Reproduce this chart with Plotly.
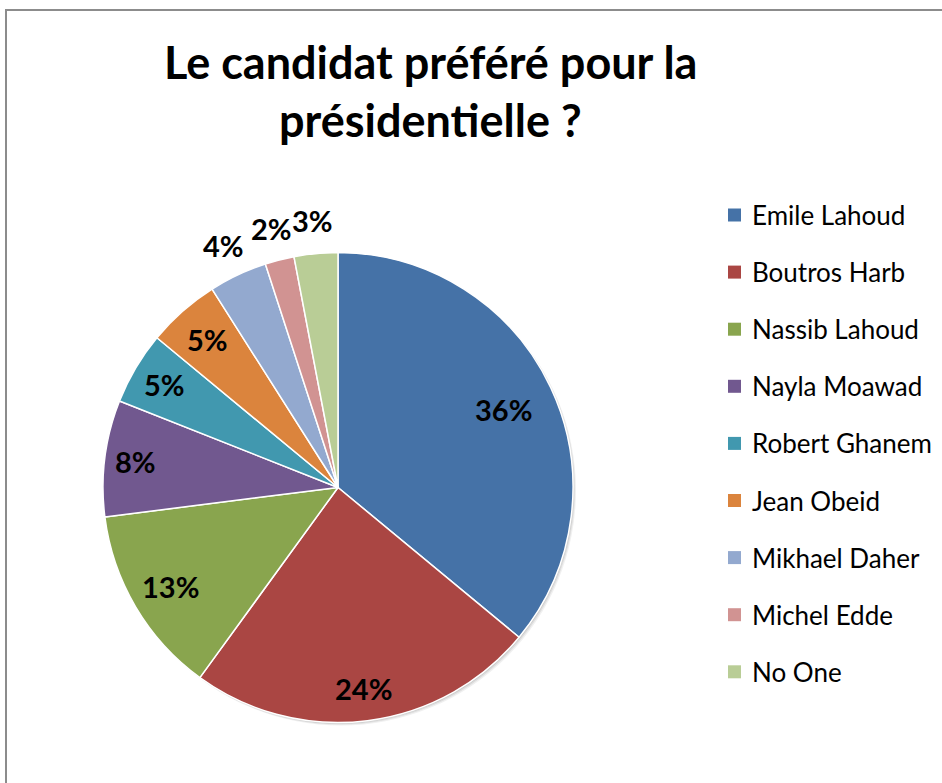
import math
import plotly.graph_objects as go

# Poll results: preferred presidential candidate
candidates = ["Emile Lahoud", "Boutros Harb", "Nassib Lahoud", "Nayla Moawad",
              "Robert Ghanem", "Jean Obeid", "Mikhael Daher", "Michel Edde", "No One"]
shares = [36, 24, 13, 8, 5, 5, 4, 2, 3]
colors = ["#4572A7", "#AA4643", "#89A54E", "#71588F", "#4198AF",
          "#DB843D", "#93A9CF", "#D19392", "#B9CD96"]

W, H = 942, 783
FONT = "Lato, 'Open Sans', sans-serif"

# Pie geometry (pixels)
cx, cy, R = 338, 487.5, 235
# radial placement of each percentage label, as a fraction of the radius
label_r = [0.78, 0.86, 0.83, 0.87, 0.86, 0.84, 1.14, 1.14, 1.14]


def px(x):
    return x / W


def py(y):
    return 1 - y / H


fig = go.Figure()
fig.add_trace(go.Pie(
    labels=candidates,
    values=shares,
    sort=False,
    direction="clockwise",
    rotation=0,
    marker=dict(colors=colors, line=dict(color="white", width=1.5)),
    textinfo="none",
    hoverinfo="label+percent",
    showlegend=False,
    domain=dict(x=[px(cx - R), px(cx + R)], y=[py(cy + R), py(cy - R)]),
))

annotations = []
shapes = []

# soft drop shadow behind the pie
for off, alpha in [(3, 0.06), (2, 0.08), (1, 0.10)]:
    shapes.append(dict(
        type="circle", xref="paper", yref="paper", layer="below",
        x0=px(cx - R + off), x1=px(cx + R + off),
        y0=py(cy + R + off), y1=py(cy - R + off),
        fillcolor=f"rgba(0,0,0,{alpha})", line=dict(width=0),
    ))

# percentage labels placed at each slice's mid-angle
total = sum(shares)
cum = 0
for v, rf in zip(shares, label_r):
    mid = (cum + v / 2) / total * 2 * math.pi
    cum += v
    x = cx + rf * R * math.sin(mid)
    y = cy - rf * R * math.cos(mid)
    annotations.append(dict(
        x=px(x), y=py(y), xref="paper", yref="paper",
        text=f"<b>{round(v / total * 100)}%</b>", showarrow=False,
        font=dict(family=FONT, size=29, color="black"),
        xanchor="center", yanchor="middle",
    ))

# legend
leg_top, leg_step = 215, 57.1
sq = 13
for i, (name, col) in enumerate(zip(candidates, colors)):
    y = leg_top + i * leg_step
    shapes.append(dict(
        type="rect", xref="paper", yref="paper",
        x0=px(728), x1=px(728 + sq), y0=py(y + sq / 2), y1=py(y - sq / 2),
        fillcolor=col, line=dict(width=0),
    ))
    annotations.append(dict(
        x=px(750), y=py(y), xref="paper", yref="paper",
        text=name, showarrow=False,
        font=dict(family=FONT, size=26, color="black"),
        xanchor="left", yanchor="middle",
    ))

# title (two lines)
for line, y in [("Le candidat préféré pour la", 62), ("présidentielle ?", 120)]:
    annotations.append(dict(
        x=px(430), y=py(y), xref="paper", yref="paper",
        text=f"<b>{line}</b>", showarrow=False,
        font=dict(family=FONT, size=45, color="black"),
        xanchor="center", yanchor="middle",
    ))

# chart frame
shapes.append(dict(
    type="rect", xref="paper", yref="paper",
    x0=px(6), x1=px(W + 10), y0=py(H + 10), y1=py(10),
    line=dict(color="#8c8c8c", width=2), fillcolor="rgba(0,0,0,0)",
))

fig.update_layout(
    width=W, height=H,
    margin=dict(l=0, r=0, t=0, b=0),
    paper_bgcolor="white",
    plot_bgcolor="white",
    annotations=annotations,
    shapes=shapes,
    showlegend=False,
)

fig.write_html("out.html")
